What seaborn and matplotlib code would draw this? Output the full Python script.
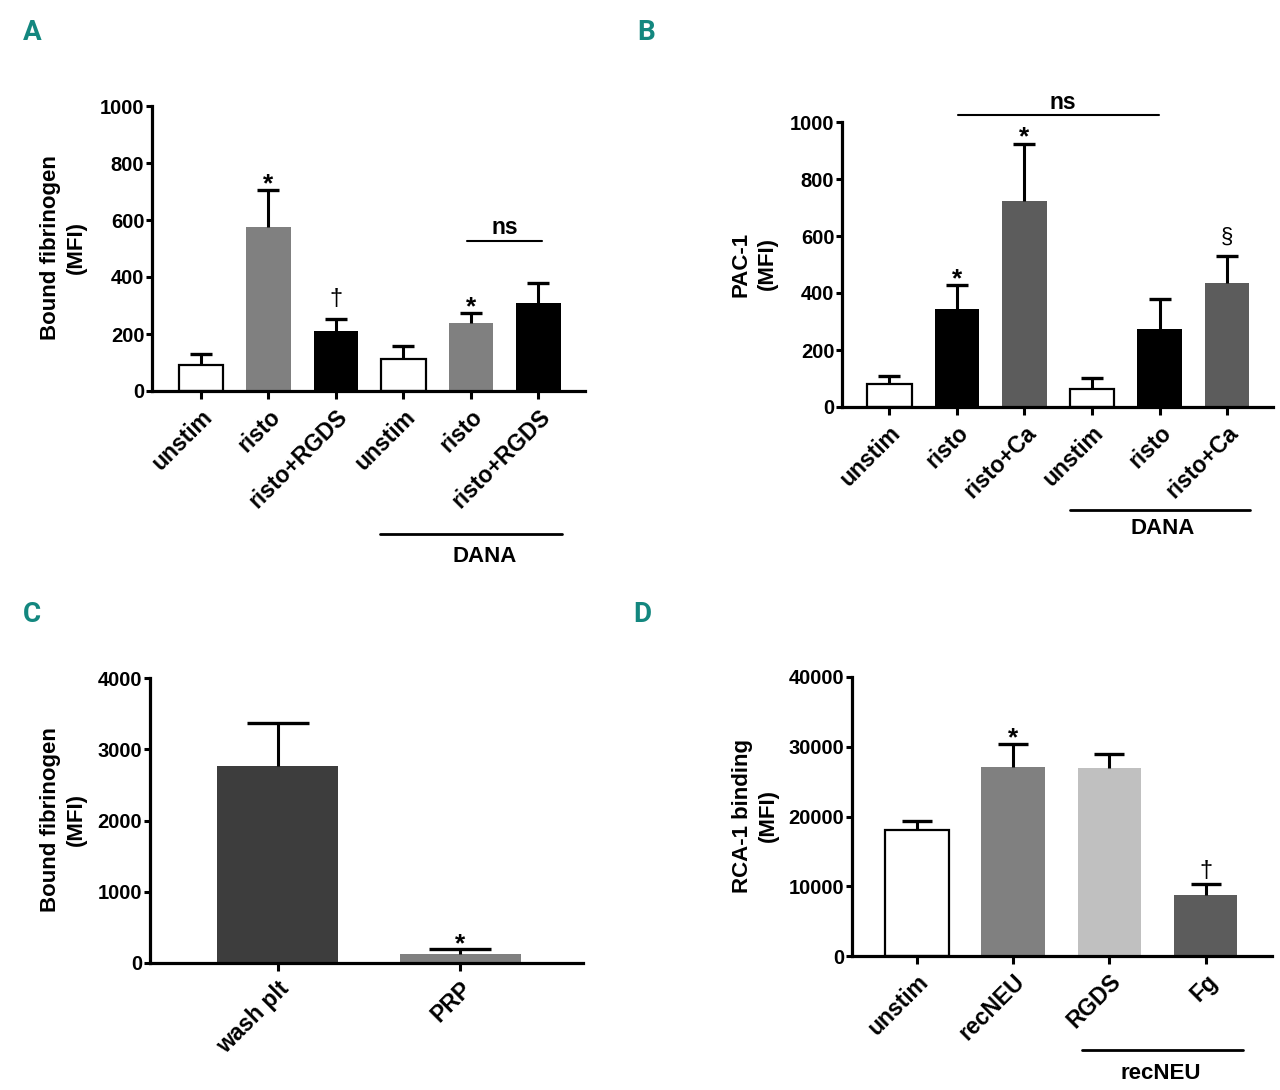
import numpy as np
import pandas as pd
import matplotlib
matplotlib.use('Agg')
import matplotlib.pyplot as plt
import seaborn as sns

# panel A - bound fibrinogen, washed platelets +/- DANA
a_labels = ['unstim', 'risto', 'risto+RGDS', 'unstim', 'risto', 'risto+RGDS']
a_mean = [90, 574, 209, 111, 237, 309]
a_upper = [130, 704, 254, 158, 274, 378]
a_colors = ['white', '#808080', 'black', 'white', '#808080', 'black']

# panel B - PAC-1
b_labels = ['unstim', 'risto', 'risto+Ca', 'unstim', 'risto', 'risto+Ca']
b_mean = [80, 345, 723, 62, 274, 436]
b_upper = [109, 427, 924, 102, 378, 529]
b_colors = ['white', 'black', '#5c5c5c', 'white', 'black', '#5c5c5c']

# panel C - washed platelets vs PRP
c_labels = ['wash plt', 'PRP']
c_mean = [2770, 131]
c_upper = [3368, 192]
c_colors = ['#3d3d3d', '#808080']

# panel D - RCA-1 binding
d_labels = ['unstim', 'recNEU', 'RGDS', 'Fg']
d_mean = [18100, 27100, 26900, 8750]
d_upper = [19300, 30350, 28950, 10280]
d_colors = ['white', '#808080', '#c0c0c0', '#5c5c5c']

sns.set_theme(style='ticks')
plt.rcParams['font.family'] = ['Liberation Sans', 'DejaVu Sans']
plt.rcParams['font.weight'] = 'bold'
for k in ['text.color', 'axes.labelcolor', 'xtick.color', 'ytick.color', 'axes.edgecolor']:
    plt.rcParams[k] = 'black'

W, H = 1280, 1090
fig = plt.figure(figsize=(W / 100, H / 100), dpi=100)


def box(left, top, right, bottom):
    return [left / W, 1 - bottom / H, (right - left) / W, (bottom - top) / H]


def panel(rect, labels, mean, upper, colors, ymax, step, xlim, capsize):
    ax = fig.add_axes(rect)
    keys = [f'{i}_{l}' for i, l in enumerate(labels)]
    df = pd.DataFrame({'cond': keys, 'mfi': mean})
    sns.barplot(data=df, x='cond', y='mfi', hue='cond', palette=colors,
                saturation=1, width=0.66, errorbar=None, legend=False, ax=ax)
    for p, c in zip(ax.patches, colors):
        if c == 'white':
            p.set_edgecolor('black')
            p.set_linewidth(1.6)
        else:
            p.set_edgecolor(c)
            p.set_linewidth(0)
    m = np.array(mean)
    u = np.array(upper)
    eb = ax.errorbar(np.arange(len(m)), m, yerr=[np.zeros(len(m)), u - m],
                     fmt='none', ecolor='black', elinewidth=2.2, capsize=capsize,
                     capthick=2.4, zorder=4)
    # only the upper cap, like GraphPad
    eb[1][0].set_visible(False)
    ax.set_ylim(0, ymax)
    ax.set_yticks(np.arange(0, ymax + 1, step))
    ax.set_xlim(*xlim)
    ax.set_xticks(np.arange(len(labels)))
    ax.set_xticklabels(labels, rotation=45, ha='right', rotation_mode='anchor',
                       fontsize=16.5, fontweight='bold')
    ax.tick_params(axis='y', labelsize=14.5, length=4, width=2.2, pad=1.5)
    ax.tick_params(axis='x', length=6, width=2.2, pad=4)
    for lab in ax.get_yticklabels():
        lab.set_fontweight('bold')
    ax.set_xlabel('')
    ax.set_ylabel('')
    sns.despine(ax=ax)
    ax.spines['left'].set_linewidth(2.3)
    ax.spines['bottom'].set_linewidth(2.3)
    return ax


def mark(ax, i, y, sym, gap_px, size):
    ax.annotate(sym, (i, y), xytext=(0, gap_px * 0.72), textcoords='offset points',
                ha='center', va='baseline', fontsize=size,
                fontweight='bold' if sym == '*' else 'normal')


def ylab(x, y, txt):
    fig.text(x / W, 1 - y / H, txt, rotation=90, ha='center', va='center',
             multialignment='center', fontsize=16, fontweight='bold',
             linespacing=1.3)


def letter(x, y, txt):
    fig.text(x / W, 1 - y / H, txt, ha='center', va='center', fontsize=20,
             color='#13877f', fontweight='bold', family='Roboto',
             fontstretch='condensed')


# A
axA = panel(box(152, 106, 585, 391), a_labels, a_mean, a_upper, a_colors,
            1000, 200, (-0.726, 5.69), 7.9)
mark(axA, 1, a_upper[1], '*', -1, 19)
mark(axA, 2, a_upper[2], '†', 14, 17)
mark(axA, 4, a_upper[4], '*', -1, 19)
tr = axA.get_xaxis_transform()
axA.plot([3.94, 5.05], [0.528, 0.528], color='black', lw=1.5, transform=tr, clip_on=False)
axA.text(4.5, 0.575, 'ns', transform=tr, ha='center', va='center', fontsize=16.5, fontweight='bold')
axA.plot([2.65, 5.35], [-0.502, -0.502], color='black', lw=2, transform=tr, clip_on=False)
axA.text(4.21, -0.582, 'DANA', transform=tr, ha='center', va='center', fontsize=16, fontweight='bold')
ylab(63, 248, 'Bound fibrinogen\n(MFI)')
letter(32, 33, 'A')

# B
axB = panel(box(842, 122, 1273, 407), b_labels, b_mean, b_upper, b_colors,
            1000, 200, (-0.70, 5.68), 7.9)
mark(axB, 1, b_upper[1], '*', -1, 19)
mark(axB, 2, b_upper[2], '*', -1, 19)
mark(axB, 5, b_upper[5], '§', 14, 16)
tr = axB.get_xaxis_transform()
axB.plot([1.02, 3.99], [1.026, 1.026], color='black', lw=1.5, transform=tr, clip_on=False)
axB.text(2.57, 1.069, 'ns', transform=tr, ha='center', va='center', fontsize=16.5, fontweight='bold')
axB.plot([2.68, 5.34], [-0.362, -0.362], color='black', lw=2, transform=tr, clip_on=False)
axB.text(4.05, -0.426, 'DANA', transform=tr, ha='center', va='center', fontsize=16, fontweight='bold')
ylab(754, 264, 'PAC-1\n(MFI)')
letter(646, 33, 'B')

# C
axC = panel(box(150, 678, 583, 963), c_labels, c_mean, c_upper, c_colors,
            4000, 1000, (-0.698, 1.67), 22)
mark(axC, 1, c_upper[1], '*', -2, 19)
ylab(63, 820, 'Bound fibrinogen\n(MFI)')
letter(32, 615, 'C')

# D
axD = panel(box(852, 677, 1272, 956), d_labels, d_mean, d_upper, d_colors,
            40000, 10000, (-0.675, 3.69), 11)
mark(axD, 1, d_upper[1], '*', -1, 19)
mark(axD, 3, d_upper[3], '†', 7, 17)
tr = axD.get_xaxis_transform()
axD.plot([1.72, 3.39], [-0.338, -0.338], color='black', lw=2, transform=tr, clip_on=False)
axD.text(2.53, -0.420, 'recNEU', transform=tr, ha='center', va='center', fontsize=16, fontweight='bold')
ylab(755, 816, 'RCA-1 binding\n(MFI)')
letter(642, 615, 'D')

fig.savefig('out.png', dpi=100)
